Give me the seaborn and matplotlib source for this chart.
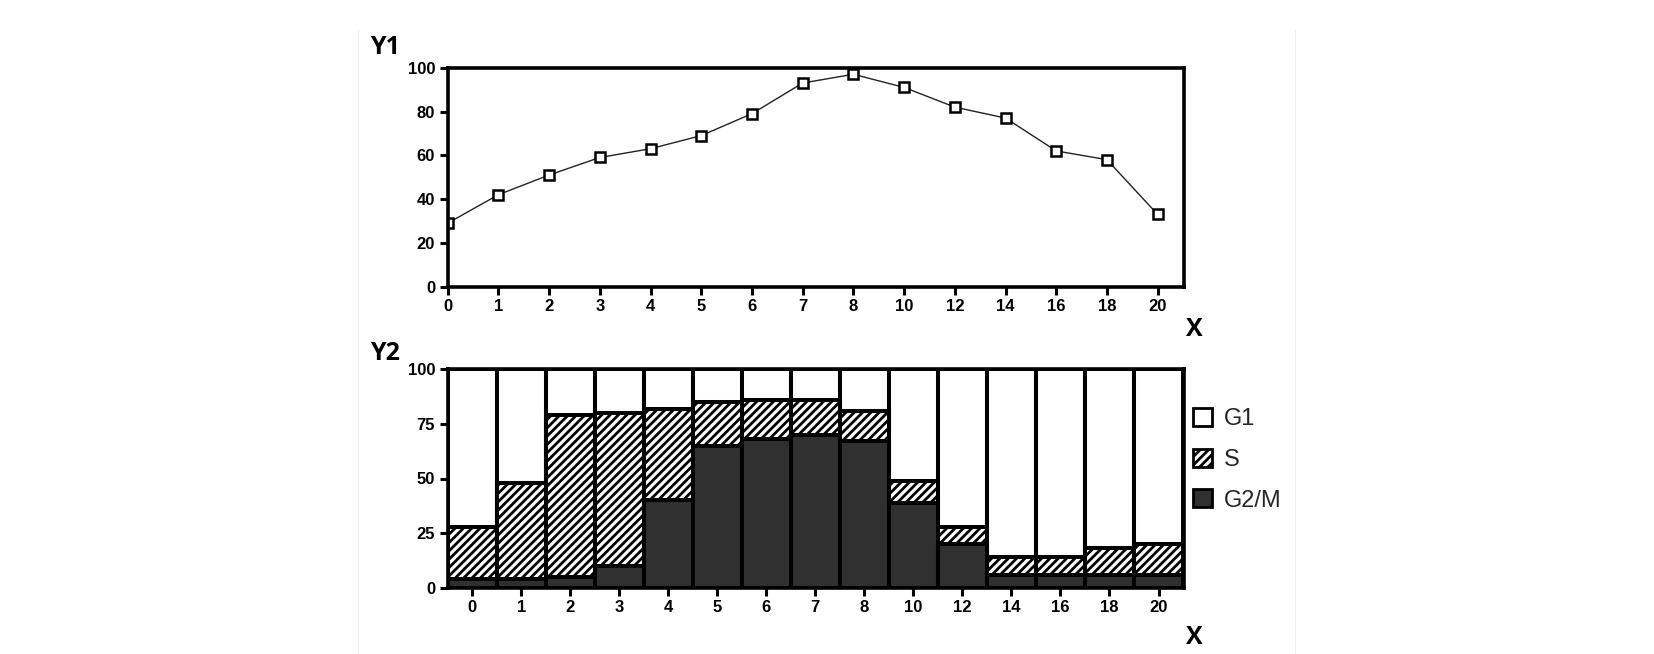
import numpy as np
import pandas as pd
import matplotlib
matplotlib.use("Agg")
import matplotlib.pyplot as plt
import matplotlib.patches as mpatches
from matplotlib.lines import Line2D
import seaborn as sns

# ---- data ----
x_labels = ["0", "1", "2", "3", "4", "5", "6", "7", "8", "10", "12", "14", "16", "18", "20"]
y1_values = [29, 42, 51, 59, 63, 69, 79, 93, 97, 91, 82, 77, 62, 58, 33]
g2m_values = [4, 4, 5, 10, 40, 65, 68, 70, 67, 39, 20, 6, 6, 6, 6]
s_values = [24, 44, 74, 70, 42, 20, 18, 16, 14, 10, 8, 8, 8, 12, 14]
g1_values = [72, 52, 21, 20, 18, 15, 14, 14, 19, 51, 72, 86, 86, 82, 80]
y1_ticks = [0, 20, 40, 60, 80, 100]
y2_ticks = [0, 25, 50, 75, 100]
phase_names = ["G1", "S", "G2/M"]

sns.set_theme(style="white")
plt.rcParams["font.family"] = ["Liberation Sans", "DejaVu Sans"]
plt.rcParams["hatch.linewidth"] = 2.0
plt.rcParams["hatch.color"] = "#1a1a1a"

W, H = 1654, 654
fig = plt.figure(figsize=(W / 100, H / 100), dpi=100)

def px_axes(l, t, r, b):
    return fig.add_axes([l / W, 1 - b / H, (r - l) / W, (b - t) / H])

ax1 = px_axes(447.7, 67.7, 1184, 286.7)
ax2 = px_axes(447.7, 369.3, 1184, 587.7)

# ---- top: line with open squares ----
df1 = pd.DataFrame({"x": x_labels, "y": y1_values})
sns.pointplot(data=df1, x="x", y="y", order=x_labels, ax=ax1, color="#222222",
              markers="s", linestyles="-", errorbar=None,
              linewidth=1.0, markersize=7, markerfacecolor="white",
              markeredgecolor="black", markeredgewidth=1.8)
ax1.set_xlim(0, 14.52)
ax1.set_ylim(0, 100)
ax1.set_yticks(y1_ticks)

# ---- bottom: stacked bars ----
s_top = [g + s for g, s in zip(g2m_values, s_values)]
g1_top = [t + g for t, g in zip(s_top, g1_values)]
df2 = pd.DataFrame({"x": x_labels, "g1": g1_top, "s": s_top, "g2m": g2m_values})
sns.barplot(data=df2, x="x", y="g1", order=x_labels, ax=ax2, color="white",
            width=1.0, edgecolor="black", linewidth=2.9, saturation=1)
sns.barplot(data=df2, x="x", y="s", order=x_labels, ax=ax2, color="white",
            width=1.0, edgecolor="black", linewidth=2.9, saturation=1, hatch="////")
sns.barplot(data=df2, x="x", y="g2m", order=x_labels, ax=ax2, color="#303030",
            width=1.0, edgecolor="black", linewidth=2.9, saturation=1)
ax2.set_xlim(-0.5, 14.52)
ax2.set_ylim(0, 100)
ax2.set_yticks(y2_ticks)

for ax in (ax1, ax2):
    ax.set_xlabel("")
    ax.set_ylabel("")
    for sp in ax.spines.values():
        sp.set_visible(True)
        sp.set_color("black")
        sp.set_linewidth(2.6)
    ax.tick_params(axis="both", which="major", direction="out", length=6,
                   width=2.2, color="black", pad=3, labelsize=12,
                   bottom=True, left=True, top=False, right=False)
    for lab in ax.get_xticklabels() + ax.get_yticklabels():
        lab.set_fontweight("bold")
        lab.set_color("black")
    ax.set_facecolor("white")
    ax.grid(False)

# ---- titles / axis letters ----
title_kw = dict(fontsize=18, fontweight="bold", family=["Open Sans", "DejaVu Sans"],
                ha="center", va="center", color="black")
fig.text(385 / W, 1 - 47 / H, "Y1", **title_kw)
fig.text(385 / W, 1 - 354 / H, "Y2", **title_kw)
fig.text(1194 / W, 1 - 330 / H, "X", **title_kw)
fig.text(1194 / W, 1 - 637 / H, "X", **title_kw)

# ---- legend ----
handles = [
    mpatches.Patch(facecolor="white", edgecolor="black", linewidth=2.0, label=phase_names[0]),
    mpatches.Patch(facecolor="white", edgecolor="black", linewidth=2.0, hatch="////", label=phase_names[1]),
    mpatches.Patch(facecolor="#303030", edgecolor="black", linewidth=2.0, label=phase_names[2]),
]
fig.legend(handles=handles, loc="upper left", bbox_to_anchor=(1193 / W, 1 - 408 / H),
           frameon=False, fontsize=17, handlelength=0.8, handleheight=0.8,
           handletextpad=0.5, labelspacing=0.78, borderaxespad=0, borderpad=0)

# faint frame lines
for xp in (358, 1295):
    fig.add_artist(Line2D([xp / W, xp / W], [0, 1 - 30 / H], color="#eeeeee", linewidth=0.8))

fig.savefig("out.png", dpi=100, facecolor="white")
